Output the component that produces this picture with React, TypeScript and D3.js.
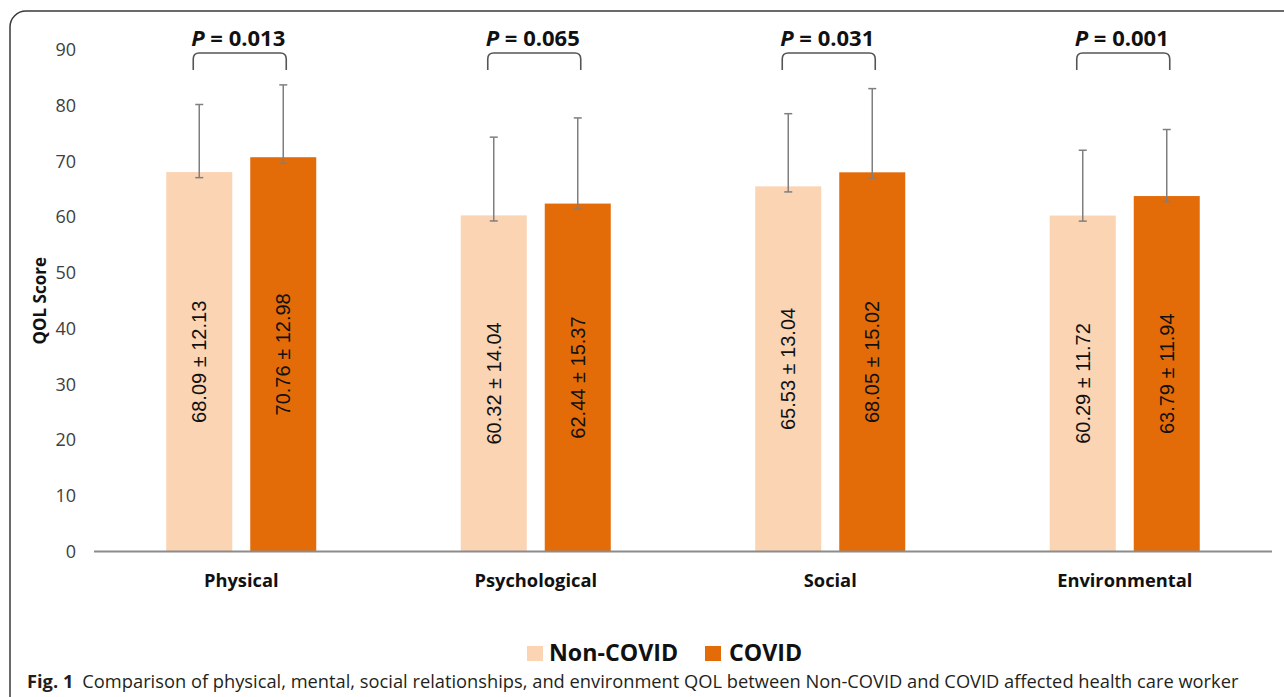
import React from "react";
import * as d3 from "d3";

const categories = ["Physical", "Psychological", "Social", "Environmental"];
const seriesNames = ["Non-COVID", "COVID"];
const nonCovidMean = [68.09, 60.32, 65.53, 60.29];
const covidMean = [70.76, 62.44, 68.05, 63.79];
const nonCovidSD = [12.13, 14.04, 13.04, 11.72];
const covidSD = [12.98, 15.37, 15.02, 11.94];
// lower whisker length as drawn in the figure
const nonCovidLow = [1.0, 1.0, 1.0, 1.0];
const covidLow = [1.1, 1.0, 1.0, 1.0];
const pValues = ["0.013", "0.065", "0.031", "0.001"];
const yTicks = [0, 10, 20, 30, 40, 50, 60, 70, 80, 90];

const W = 1284;
const H = 697;
const colors = ["#FBD4B4", "#E36C09"];
const chartFont = "'Open Sans', sans-serif";

export default function App() {
  const x = d3.scaleBand<string>().domain(categories).range([94, 1272]).padding(0);
  const y = d3.scaleLinear().domain([0, 90]).range([551.5, 50]);
  const inner = d3.scaleBand<string>().domain(seriesNames).range([-75, 75]).paddingInner(18 / 84).paddingOuter(0);

  const rows = categories.map((c, i) => ({
    cat: c,
    vals: [
      { s: seriesNames[0], m: nonCovidMean[i], sd: nonCovidSD[i], lo: nonCovidLow[i], color: colors[0] },
      { s: seriesNames[1], m: covidMean[i], sd: covidSD[i], lo: covidLow[i], color: colors[1] },
    ],
    p: pValues[i],
  }));

  const bracketPath = (x0: number, x1: number, yTop: number, yBot: number, r: number) =>
    `M${x0},${yBot} L${x0},${yTop + r} Q${x0},${yTop} ${x0 + r},${yTop} L${x1 - r},${yTop} Q${x1},${yTop} ${x1},${yTop + r} L${x1},${yBot}`;

  return (
    <svg width={W} height={H} style={{ position: "absolute", left: 0, top: 0, background: "#fff" }}>
      <rect x={0} y={0} width={W} height={H} fill="#fff" />
      <rect x={10} y={11} width={1320} height={740} rx={16} ry={16} fill="none" stroke="#3a3a3a" strokeWidth={1.5} />

      {/* y tick labels */}
      {yTicks.map((t) => (
        <text key={t} x={76} y={y(t)} dy="0.35em" textAnchor="end" fontFamily={chartFont} fontSize={18} fill="#404040">
          {t}
        </text>
      ))}
      <text
        transform={`translate(46,${(y(0) + y(90)) / 2}) rotate(-90)`}
        textAnchor="middle"
        fontFamily={chartFont}
        fontWeight="bold"
        fontSize={17}
        fill="#111"
      >
        QOL Score
      </text>

      {/* bars */}
      {rows.map((r) => {
        const cx = (x(r.cat) as number) + x.bandwidth() / 2;
        return (
          <g key={r.cat}>
            {r.vals.map((v) => {
              const bx = cx + (inner(v.s) as number);
              const bw = inner.bandwidth();
              const mid = bx + bw / 2;
              return (
                <g key={v.s}>
                  <rect x={bx} y={y(v.m)} width={bw} height={y(0) - y(v.m)} fill={v.color} />
                  <line x1={mid} x2={mid} y1={y(v.m + v.sd)} y2={y(v.m - v.lo)} stroke="#7f7f7f" strokeWidth={1.5} />
                  <line x1={mid - 4} x2={mid + 4} y1={y(v.m + v.sd)} y2={y(v.m + v.sd)} stroke="#7f7f7f" strokeWidth={1.5} />
                  <line x1={mid - 4} x2={mid + 4} y1={y(v.m - v.lo)} y2={y(v.m - v.lo)} stroke="#7f7f7f" strokeWidth={1.5} />
                  <text
                    transform={`translate(${mid},${(y(v.m) + y(0)) / 2}) rotate(-90)`}
                    textAnchor="middle"
                    dy="0.35em"
                    fontFamily="'Liberation Sans Narrow', 'Arial Narrow', sans-serif"
                    fontStretch="condensed"
                    fontSize={20}
                    fill="#111"
                  >
                    {`${v.m.toFixed(2)} ± ${v.sd.toFixed(2)}`}
                  </text>
                </g>
              );
            })}
            {/* bracket and p-value */}
            <path d={bracketPath(cx - 48, cx + 45, 53, 70, 6)} fill="none" stroke="#555" strokeWidth={1.6} />
            <text x={cx - 3} y={46} textAnchor="middle" fontFamily={chartFont} fontWeight="bold" fontSize={22} fill="#111">
              <tspan fontStyle="italic">P</tspan>
              {` = ${r.p}`}
            </text>
            <text x={cx} y={587} textAnchor="middle" fontFamily={chartFont} fontWeight="bold" fontSize={18.3} fill="#111">
              {r.cat}
            </text>
          </g>
        );
      })}

      {/* x axis line */}
      <line x1={94} x2={1272} y1={y(0)} y2={y(0)} stroke="#8c8c8c" strokeWidth={2} />

      {/* legend */}
      <rect x={527} y={646} width={16} height={15} fill={colors[0]} />
      <text x={549} y={661} fontFamily={chartFont} fontWeight="bold" fontSize={23.2} fill="#111">
        Non-COVID
      </text>
      <rect x={705} y={646} width={16} height={15} fill={colors[1]} />
      <text x={729} y={661} fontFamily={chartFont} fontWeight="bold" fontSize={23.2} fill="#111">
        COVID
      </text>

      {/* caption */}
      <text x={27} y={688} fontFamily={chartFont} fontSize={18.3} fill="#231f20">
        <tspan fontWeight="bold">Fig. 1</tspan>
        <tspan dx={9}>Comparison of physical, mental, social relationships, and environment QOL between Non-COVID and COVID affected health care worker</tspan>
      </text>
    </svg>
  );
}
